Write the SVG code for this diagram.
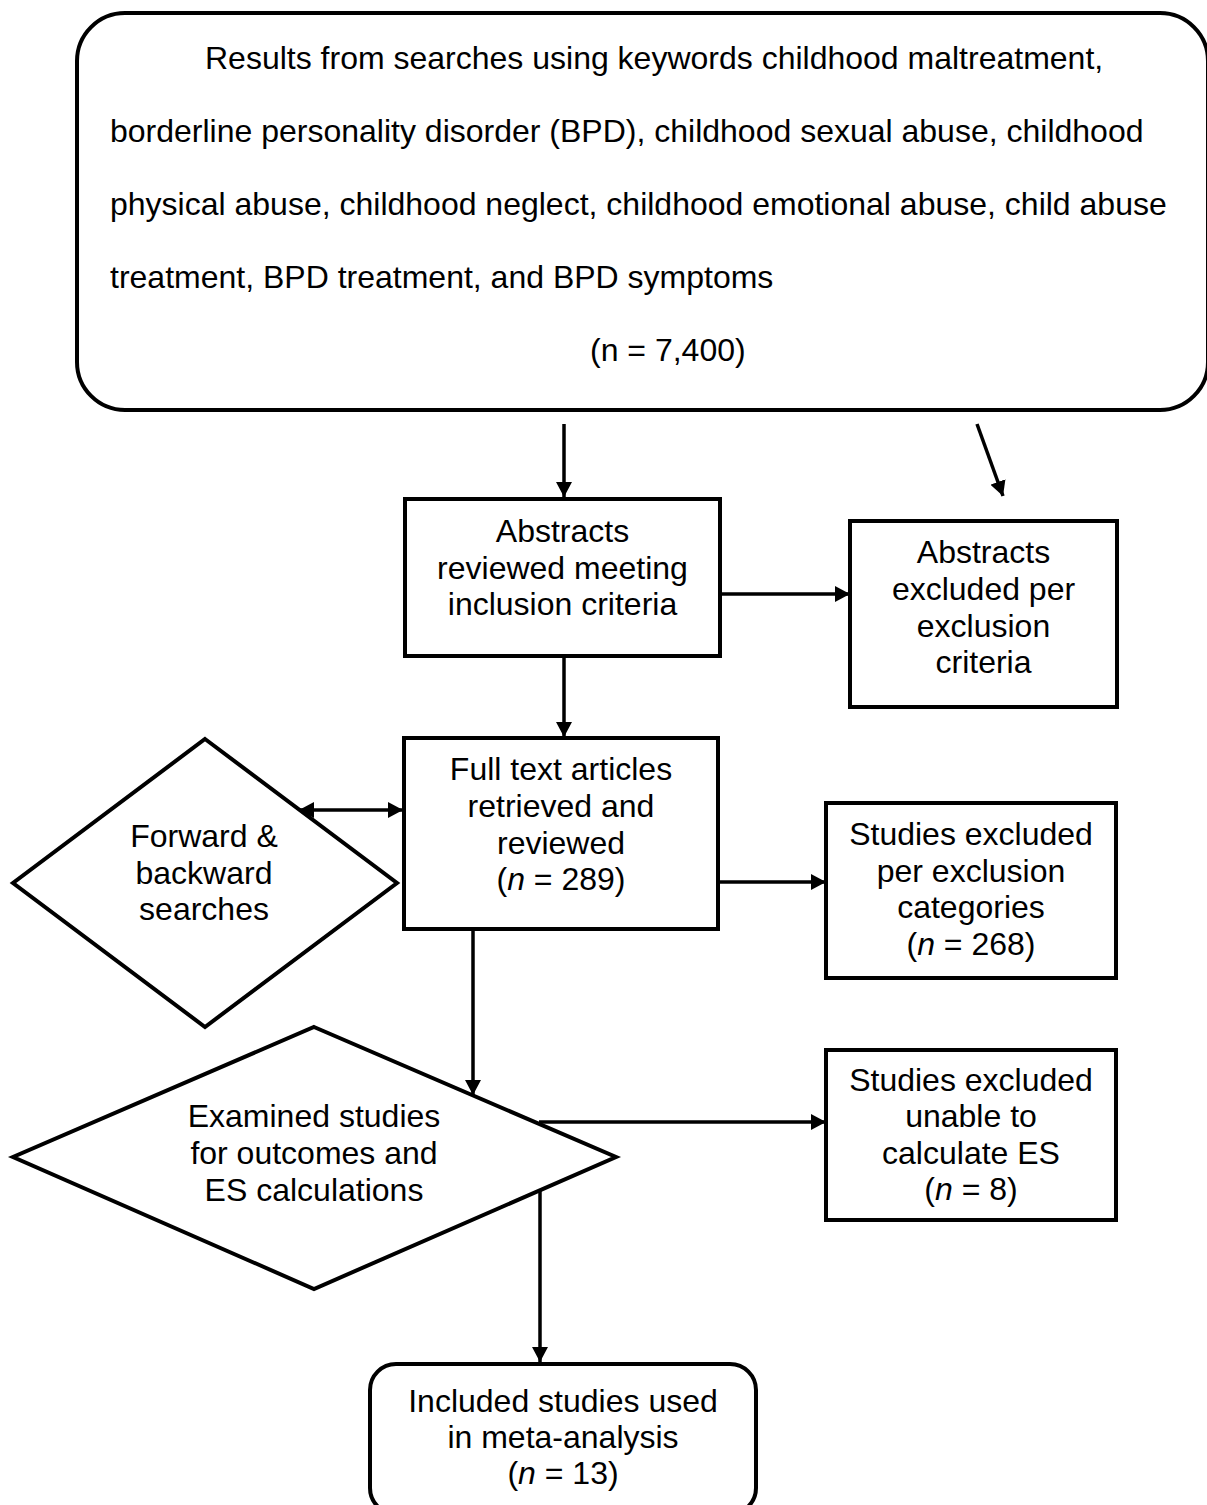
<svg xmlns="http://www.w3.org/2000/svg" width="1207" height="1505" viewBox="0 0 1207 1505">
<style>
text{font-family:"Liberation Sans",Arial,sans-serif;font-size:32px;fill:#000}
.c{text-anchor:middle}
.box{fill:#fff;stroke:#000;stroke-width:4}
.ln{fill:none;stroke:#000;stroke-width:3.5}
</style>
<defs>
<marker id="ah" markerUnits="userSpaceOnUse" markerWidth="16" markerHeight="16" refX="15" refY="8" orient="auto-start-reverse">
<path d="M0,0 L15,8 L0,16 z" fill="#000"/>
</marker>
</defs>
<rect width="1207" height="1505" fill="#fff"/>

<g id="search-results">
<rect class="box" x="77" y="13" width="1131" height="397" rx="48" ry="48"/>
<text x="205" y="69">Results from searches using keywords childhood maltreatment,</text>
<text x="110" y="142">borderline personality disorder (BPD), childhood sexual abuse, childhood</text>
<text x="110" y="215">physical abuse, childhood neglect, childhood emotional abuse, child abuse</text>
<text x="110" y="288">treatment, BPD treatment, and BPD symptoms</text>
<text x="590" y="361">(n = 7,400)</text>
</g>

<g id="abstracts-reviewed">
<rect class="box" x="405" y="499" width="315" height="157"/>
<text class="c" x="562.5" y="542">Abstracts</text>
<text class="c" x="562.5" y="579">reviewed meeting</text>
<text class="c" x="562.5" y="615">inclusion criteria</text>
</g>

<g id="abstracts-excluded">
<rect class="box" x="850" y="521" width="267" height="186"/>
<text class="c" x="983.5" y="563">Abstracts</text>
<text class="c" x="983.5" y="600">excluded per</text>
<text class="c" x="983.5" y="637">exclusion</text>
<text class="c" x="983.5" y="673">criteria</text>
</g>

<g id="full-text">
<rect class="box" x="404" y="738" width="314" height="191"/>
<text class="c" x="561" y="780">Full text articles</text>
<text class="c" x="561" y="817">retrieved and</text>
<text class="c" x="561" y="854">reviewed</text>
<text class="c" x="561" y="890">(<tspan font-style="italic">n</tspan> = 289)</text>
</g>

<g id="studies-excluded-categories">
<rect class="box" x="826" y="803" width="290" height="175"/>
<text class="c" x="971" y="845">Studies excluded</text>
<text class="c" x="971" y="882">per exclusion</text>
<text class="c" x="971" y="918">categories</text>
<text class="c" x="971" y="955">(<tspan font-style="italic">n</tspan> = 268)</text>
</g>

<g id="forward-backward">
<polygon class="box" points="205,739 397,883 205,1027 13,883"/>
<text class="c" x="204" y="847">Forward &amp;</text>
<text class="c" x="204" y="884">backward</text>
<text class="c" x="204" y="920">searches</text>
</g>

<g id="examined-studies">
<polygon class="box" points="314,1027 616,1157 314,1289 13,1157"/>
<text class="c" x="314" y="1127">Examined studies</text>
<text class="c" x="314" y="1164">for outcomes and</text>
<text class="c" x="314" y="1201">ES calculations</text>
</g>

<g id="studies-excluded-es">
<rect class="box" x="826" y="1050" width="290" height="170"/>
<text class="c" x="971" y="1091">Studies excluded</text>
<text class="c" x="971" y="1127">unable to</text>
<text class="c" x="971" y="1164">calculate ES</text>
<text class="c" x="971" y="1200">(<tspan font-style="italic">n</tspan> = 8)</text>
</g>

<g id="included-studies">
<rect class="box" x="370" y="1364" width="386" height="150" rx="26" ry="26"/>
<text class="c" x="563" y="1412">Included studies used</text>
<text class="c" x="563" y="1448">in meta-analysis</text>
<text class="c" x="563" y="1484">(<tspan font-style="italic">n</tspan> = 13)</text>
</g>

<g id="connectors">
<line class="ln" x1="564" y1="424" x2="564" y2="497" marker-end="url(#ah)"/>
<line class="ln" x1="977" y1="424" x2="1003" y2="496" marker-end="url(#ah)"/>
<line class="ln" x1="720" y1="594" x2="850" y2="594" marker-end="url(#ah)"/>
<line class="ln" x1="564" y1="656" x2="564" y2="737" marker-end="url(#ah)"/>
<line class="ln" x1="299" y1="810" x2="403" y2="810" marker-start="url(#ah)" marker-end="url(#ah)"/>
<line class="ln" x1="718" y1="882" x2="826" y2="882" marker-end="url(#ah)"/>
<line class="ln" x1="473" y1="929" x2="473" y2="1095" marker-end="url(#ah)"/>
<line class="ln" x1="539" y1="1122" x2="826" y2="1122" marker-end="url(#ah)"/>
<line class="ln" x1="540" y1="1191" x2="540" y2="1362" marker-end="url(#ah)"/>
</g>
</svg>
